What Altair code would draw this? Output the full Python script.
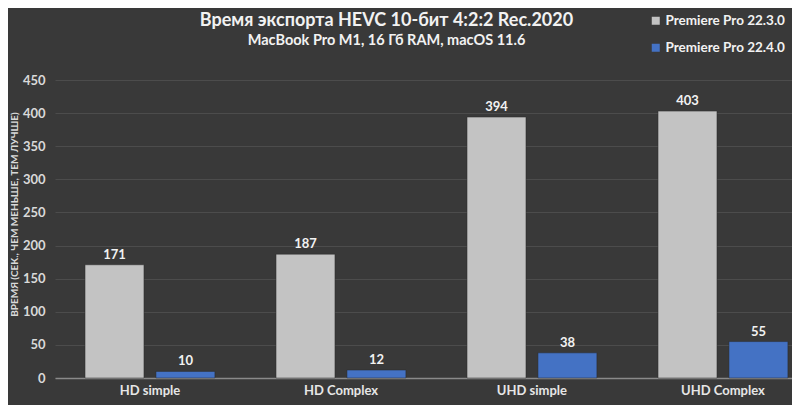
import altair as alt
import pandas as pd

categories = ["HD simple", "HD Complex", "UHD simple", "UHD Complex"]
series = ["Premiere Pro 22.3.0", "Premiere Pro 22.4.0"]
values_223 = [171, 187, 394, 403]
values_224 = [10, 12, 38, 55]

rows = []
for c, a, b in zip(categories, values_223, values_224):
    rows.append({"cat": c, "ver": series[0], "val": a})
    rows.append({"cat": c, "ver": series[1], "val": b})
df = pd.DataFrame(rows)

FONT = "Lato"

x = alt.X("cat:N", sort=categories, title=None,
          scale=alt.Scale(paddingInner=0.32, paddingOuter=0.0893, align=0.88),
          axis=alt.Axis(labelAngle=0, labelFont=FONT, labelFontWeight="bold",
                        labelFontSize=13, labelColor="#e6e6e6", labelPadding=6,
                        ticks=False, domainColor="#8a8a8a", domainWidth=1.5))
xo = alt.XOffset("ver:N", sort=series,
                 scale=alt.Scale(paddingInner=0.169, paddingOuter=0))
y = alt.Y("val:Q", title="ВРЕМЯ (СЕК., ЧЕМ МЕНЬШЕ, ТЕМ ЛУЧШЕ)",
          scale=alt.Scale(domain=[0, 450], nice=False),
          axis=alt.Axis(values=list(range(0, 451, 50)), labelFont=FONT,
                        labelFontWeight="bold", labelFontSize=13,
                        labelColor="#d9d9d9", labelPadding=10, ticks=False,
                        domain=False, gridColor="#4c4c4c", gridWidth=1,
                        titleFont=FONT, titleFontWeight="bold", titleFontSize=10,
                        titleColor="#d9d9d9", titleAngle=270, titleX=-41,
                        titleY=134, titleAlign="center", titleBaseline="middle"))

color = alt.Color("ver:N", sort=series,
                  scale=alt.Scale(domain=series, range=["#c3c3c3", "#4472c4"]),
                  legend=alt.Legend(title=None, orient="none", legendX=594,
                                    legendY=-66, symbolType="square",
                                    symbolSize=64, symbolStrokeWidth=0,
                                    labelFont=FONT, labelFontWeight="bold",
                                    labelFontSize=13.5, labelColor="#f2f2f2",
                                    rowPadding=12, labelOffset=3))

base = alt.Chart(df).encode(x=x, xOffset=xo, y=y)

bars = base.mark_bar(stroke="#2a2a2a", strokeWidth=0.5).encode(color=color)
labels = base.mark_text(dy=-3, baseline="bottom", font=FONT, fontWeight="bold",
                        fontSize=13, color="#f2f2f2").encode(text="val:Q")

chart = alt.layer(bars, labels).properties(
    width=737, height=298,
    autosize=alt.AutoSizeParams(type="none"),
    padding={"left": 47, "top": 72, "right": 0, "bottom": 27},
    background="#393939",
    title=alt.TitleParams(
        text="Время экспорта HEVC 10-бит 4:2:2 Rec.2020",
        subtitle="MacBook Pro M1, 16 Гб RAM, macOS 11.6",
        font=FONT, fontSize=18, fontWeight="bold", color="#f2f2f2",
        subtitleFont=FONT, subtitleFontSize=14.5, subtitleFontWeight="bold",
        subtitleColor="#f2f2f2", subtitlePadding=4, anchor="middle",
        frame="group", dx=-37, offset=-33),
).configure_view(stroke=None)

chart.save("out.html", embed_options={"renderer": "svg", "actions": False})
